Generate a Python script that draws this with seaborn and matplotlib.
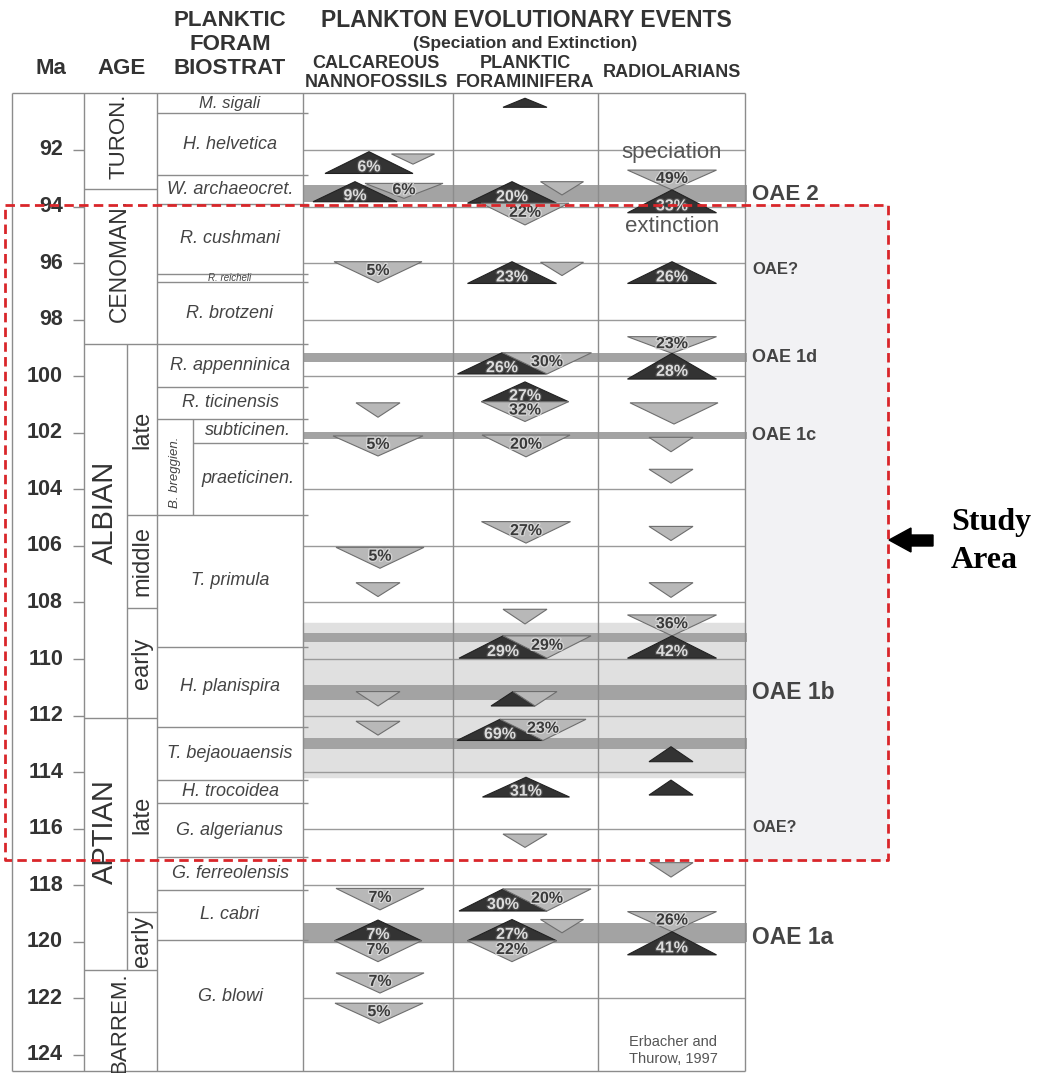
import numpy as np
import pandas as pd
import matplotlib.pyplot as plt
import matplotlib.patheffects as pe
import seaborn as sns

sns.set_theme(style="white")
plt.rcParams['font.family'] = ['Liberation Sans', 'DejaVu Sans']

# page rows -> Ma (92 Ma sits on row 150, 28.28 rows per Ma)
def ma(px):
    return 92 + (px - 150) / 28.28

# ---- time scale ----
ma_ticks = list(range(92, 125, 2))
grid_ages = list(range(92, 123, 2))

stage_names = ['TURON.', 'CENOMAN.', 'ALBIAN', 'APTIAN', 'BARREM.']
stage_top = [90.0, 93.38, 98.86, 112.08, 121.0]
stage_base = [93.38, 98.86, 112.08, 121.0, 124.55]

substage_names = ['late', 'middle', 'early', 'late', 'early']
substage_top = [98.86, 104.9, 108.2, 112.08, 118.95]
substage_base = [104.9, 108.2, 112.08, 118.95, 121.0]

# ---- planktic foram zones ----
zone_names = ['M. sigali', 'H. helvetica', 'W. archaeocret.', 'R. cushmani', 'R. reicheli',
              'R. brotzeni', 'R. appenninica', 'R. ticinensis', 'subticinen.', 'praeticinen.',
              'T. primula', 'H. planispira', 'T. bejaouaensis', 'H. trocoidea', 'G. algerianus',
              'G. ferreolensis', 'L. cabri', 'G. blowi']
zone_top = [90.0, 90.68, 92.9, 93.9, 96.38, 96.67, 98.86, 100.37, 101.5, 102.36,
            104.9, 109.56, 112.4, 114.28, 115.1, 117.0, 118.17, 119.93]
zone_base = zone_top[1:] + [124.55]
zone_sub = [False] * 8 + [True, True] + [False] * 8   # inside B. breggiengensis

# ---- OAE bands ----
band_top = [93.24, 99.18, 101.96, 109.08, 110.92, 112.80, 119.33]
band_base = [93.83, 99.49, 102.23, 109.39, 111.45, 113.18, 119.99]
zone1b_top, zone1b_base = 108.72, 114.17

oae_names = ['OAE 2', 'OAE?', 'OAE 1d', 'OAE 1c', 'OAE 1b', 'OAE?', 'OAE 1a']
oae_age = [93.59, 96.24, 99.32, 102.11, 111.2, 115.94, 119.83]

# ---- evolutionary events: S = speciation, E = extinction ----
nanno_kind = ['S', 'E', 'S', 'E', 'E', 'E', 'E', 'E', 'E', 'E', 'E', 'E', 'S', 'E', 'E', 'E']
nanno_top = [92.06, 92.14, 93.12, 93.18, 95.95, 100.94, 102.11, 106.05, 107.30, 111.15,
             112.20, 118.11, 119.23, 119.96, 121.10, 122.17]
nanno_base = [92.83, 92.50, 93.83, 93.71, 96.69, 101.45, 102.82, 106.79, 107.79, 111.66,
              112.69, 118.87, 119.96, 120.70, 121.81, 122.88]
nanno_pct = ['6%', '', '9%', '6%', '5%', '', '5%', '5%', '', '', '', '7%', '7%', '7%', '7%', '5%']

foram_kind = ['S', 'S', 'E', 'E', 'S', 'E', 'S', 'E', 'S', 'E', 'E', 'E', 'E',
              'S', 'E', 'S', 'E', 'S', 'E', 'S', 'E', 'S', 'E', 'S', 'E', 'E']
foram_top = [90.17, 93.12, 93.88, 93.12, 95.95, 95.97, 99.17, 99.17, 100.20, 100.90, 102.08,
             105.14, 108.24, 109.18, 109.18, 111.15, 111.15, 112.13, 112.13, 114.18, 116.19,
             118.13, 118.13, 119.21, 119.96, 119.21]
foram_base = [90.49, 93.88, 94.65, 93.59, 96.72, 96.44, 99.92, 99.92, 100.90, 101.60, 102.85,
              105.90, 108.76, 109.97, 109.97, 111.66, 111.66, 112.88, 112.88, 114.88, 116.66,
              118.91, 118.91, 119.96, 120.70, 119.68]
foram_pct = ['', '20%', '22%', '', '23%', '', '26%', '30%', '27%', '32%', '20%', '27%', '',
             '29%', '29%', '', '', '69%', '23%', '31%', '', '30%', '20%', '27%', '22%', '']

radio_kind = ['E', 'S', 'S', 'E', 'S', 'E', 'E', 'E', 'E', 'E', 'E', 'S', 'S', 'S', 'E', 'E', 'S']
radio_top = [92.71, 93.41, 95.95, 98.60, 99.19, 100.94, 102.16, 103.29, 105.31, 107.30,
             108.44, 109.18, 113.10, 114.28, 117.20, 118.93, 119.64]
radio_base = [93.41, 94.22, 96.72, 99.19, 100.10, 101.69, 102.67, 103.78, 105.81, 107.82,
              109.18, 109.97, 113.63, 114.81, 117.71, 119.64, 120.46]
radio_pct = ['49%', '33%', '26%', '23%', '28%', '', '', '', '', '', '36%', '42%', '', '', '', '26%', '41%']

# horizontal placement of each marker inside its column (offset from centre, width)
nanno_dx = [-9, 35, -23, 26, 0, 0, 0, 2, 0, 0, 0, 2, 0, 0, 2, 1]
nanno_w = [88, 43, 84, 78, 88, 44, 90, 88, 44, 44, 44, 88, 87, 87, 88, 88]
foram_dx = [0, -13, 0, 37, -13, 37, -23, 22, 0, 0, 1, 1, 0, -22, 22, -12, 10, -25, 18, 1, 0,
            -22, 22, -13, -13, 37]
foram_w = [44, 89, 88, 43, 89, 43, 89, 89, 87, 87, 88, 89, 44, 88, 88, 44, 44, 86, 86, 87, 44,
           88, 88, 89, 89, 43]
radio_dx = [0, 0, 0, 0, 0, 2, -1, -1, -1, -1, 0, 0, -1, -1, -1, 0, 0]
radio_w = [89, 89, 89, 89, 89, 88, 44, 44, 44, 44, 89, 89, 44, 44, 44, 89, 89]

events = pd.concat([
    pd.DataFrame({'col': 378, 'kind': nanno_kind, 'top': nanno_top, 'base': nanno_base,
                  'pct': nanno_pct, 'dx': nanno_dx, 'w': nanno_w}),
    pd.DataFrame({'col': 525, 'kind': foram_kind, 'top': foram_top, 'base': foram_base,
                  'pct': foram_pct, 'dx': foram_dx, 'w': foram_w}),
    pd.DataFrame({'col': 672, 'kind': radio_kind, 'top': radio_top, 'base': radio_base,
                  'pct': radio_pct, 'dx': radio_dx, 'w': radio_w}),
], ignore_index=True)

# ---------------------------------------------------------------
fig = plt.figure(figsize=(10.39, 10.73), dpi=100)
ax = fig.add_axes([0, 0, 1, 1])
ax.set_xlim(0, 1039)
ax.set_ylim(ma(1073), ma(0))
ax.axis('off')

LINE = '#8c8c8c'
TXT = '#333333'

# study area background (right margin)
ax.fill_between([745, 888], ma(205), ma(860), color='#f2f2f4', zorder=0)

# light grey OAE 1b interval, grid lines, darker bands
ax.fill_between([303, 745], zone1b_top, zone1b_base, color='#e0e0e0', zorder=1)
ax.hlines(grid_ages, 303, 745, color='#9a9a9a', lw=1, zorder=1.5)
for t, b in zip(band_top, band_base):
    ax.fill_between([303, 747], t, b, color='#a3a3a3', lw=0, zorder=2)

# frame
ax.vlines([12, 84, 157, 303, 453, 598, 745], 90.0, 124.55, color=LINE, lw=1, zorder=2.5)
ax.vlines(127, 98.86, 121.0, color=LINE, lw=1, zorder=2.5)
ax.vlines(193, 101.5, 104.9, color=LINE, lw=1, zorder=2.5)
ax.hlines([90.0, 124.55], 12, 745, color=LINE, lw=1, zorder=2.5)
ax.hlines(stage_top[1:], 84, 157, color=LINE, lw=1, zorder=2.5)
ax.hlines([104.9, 108.2, 118.95], 127, 157, color=LINE, lw=1, zorder=2.5)
for t, sub in zip(zone_top[1:], zone_sub[1:]):
    ax.hlines(t, 193 if sub and t > 102 else 157, 308, color=LINE, lw=1, zorder=2.5)

# Ma ticks
ax.hlines(ma_ticks, 73, 84, color=LINE, lw=1)
for t in ma_ticks:
    ax.text(63, t, str(t), ha='right', va='center', fontsize=15.5, fontweight='bold', color=TXT)

# stages / substages
stage_x = [119, 119, 105, 105, 120]
stage_at = [91.52, 95.92, 104.8, 116.1, 122.87]
stage_fs = [16, 16.5, 21, 21, 16]
for name, x, y, fs in zip(stage_names, stage_x, stage_at, stage_fs):
    ax.text(x, y, name, rotation=90, ha='center', va='center', fontsize=fs, color=TXT)
for name, t, b in zip(substage_names, substage_top, substage_base):
    ax.text(142, (t + b) / 2, name, rotation=90, ha='center', va='center', fontsize=17, color=TXT)
ax.text(175, 103.4, 'B. breggien.', rotation=90, ha='center', va='center', fontsize=9.5,
        style='italic', color='#444444')

# zone names
for name, t, b, sub in zip(zone_names, zone_top, zone_base, zone_sub):
    fs = 7 if name == 'R. reicheli' else (12 if name == 'M. sigali' else 13)
    y = (t + b) / 2 if name != 'G. blowi' else 121.95
    ax.text(248 if sub else 230, y, name, ha='center', va='center', fontsize=fs,
            style='italic', color='#444444')

# event triangles
dark_fx = [pe.withStroke(linewidth=1.8, foreground='#4a4a4a')]
light_fx = [pe.withStroke(linewidth=1.8, foreground='#d6d6d6')]
for _, e in events.iterrows():
    cx = e['col'] + e['dx']
    hw = e['w'] / 2
    if e['kind'] == 'S':
        xs = [cx - hw, cx + hw, cx]
        ys = [e['base'], e['base'], e['top']]
        ax.fill(xs, ys, facecolor='#333333', edgecolor='#222222', lw=0.8, zorder=3)
        if e['pct']:
            ax.text(cx, e['top'] + 0.7 * (e['base'] - e['top']), e['pct'], ha='center',
                    va='center', fontsize=11.5, fontweight='bold', color='#dcdcdc',
                    path_effects=dark_fx, zorder=4)
    else:
        xs = [cx - hw, cx + hw, cx]
        ys = [e['top'], e['top'], e['base']]
        ax.fill(xs, ys, facecolor='#b8b8b8', edgecolor='#6e6e6e', lw=0.8, zorder=3)
        if e['pct']:
            ax.text(cx, e['top'] + 0.42 * (e['base'] - e['top']), e['pct'], ha='center',
                    va='center', fontsize=11.5, fontweight='bold', color='#3a3a3a',
                    path_effects=light_fx, zorder=4)

ax.text(672, ma(153), 'speciation', ha='center', va='center', fontsize=16, color='#555555', zorder=4)
ax.text(672, ma(227), 'extinction', ha='center', va='center', fontsize=16, color='#555555', zorder=4)
ax.text(673, ma(1042), 'Erbacher and', ha='center', va='center', fontsize=10.5, color='#555555')
ax.text(673, ma(1059), 'Thurow, 1997', ha='center', va='center', fontsize=10.5, color='#555555')

# OAE labels
oae_fs = [16, 12, 13, 13, 16.5, 11.5, 16.5]
for name, y, fs in zip(oae_names, oae_age, oae_fs):
    ax.text(752, y, name, ha='left', va='center', fontsize=fs, fontweight='bold',
            color='#444444', zorder=5)

# headers
hdr = dict(ha='center', va='center', fontweight='bold', color=TXT)
ax.text(51, ma(69), 'Ma', fontsize=16, **hdr)
ax.text(122, ma(69), 'AGE', fontsize=16, **hdr)
ax.text(230, ma(21), 'PLANKTIC', fontsize=16, **hdr)
ax.text(230, ma(45), 'FORAM', fontsize=16, **hdr)
ax.text(230, ma(69), 'BIOSTRAT', fontsize=16, **hdr)
ax.text(526, ma(21), 'PLANKTON EVOLUTIONARY EVENTS', fontsize=16.5, **hdr)
ax.text(525, ma(44), '(Speciation and Extinction)', fontsize=12.5, **hdr)
ax.text(376, ma(63.5), 'CALCAREOUS', fontsize=13, **hdr)
ax.text(376, ma(83), 'NANNOFOSSILS', fontsize=13, **hdr)
ax.text(525, ma(63.5), 'PLANKTIC', fontsize=13, **hdr)
ax.text(525, ma(83), 'FORAMINIFERA', fontsize=13, **hdr)
ax.text(672, ma(72.5), 'RADIOLARIANS', fontsize=13, **hdr)

# study area box + arrow
bx = [5, 888, 888, 5, 5]
by = [ma(205), ma(205), ma(860), ma(860), ma(205)]
ax.plot(bx, by, color='#d9262a', lw=2, ls=(0, (3.4, 1.9)), zorder=6)
arrow_x = [889, 911, 911, 933, 933, 911, 911, 889]
arrow_y = [ma(p) for p in [540, 528, 535, 535, 546, 546, 552, 540]]
ax.fill(arrow_x, arrow_y, color='black', zorder=6)
ax.text(951, ma(523), 'Study', ha='left', va='center', fontsize=23, fontweight='bold',
        family='Liberation Serif', color='black')
ax.text(951, ma(561), 'Area', ha='left', va='center', fontsize=23, fontweight='bold',
        family='Liberation Serif', color='black')

fig.savefig('out.png', dpi=100)
